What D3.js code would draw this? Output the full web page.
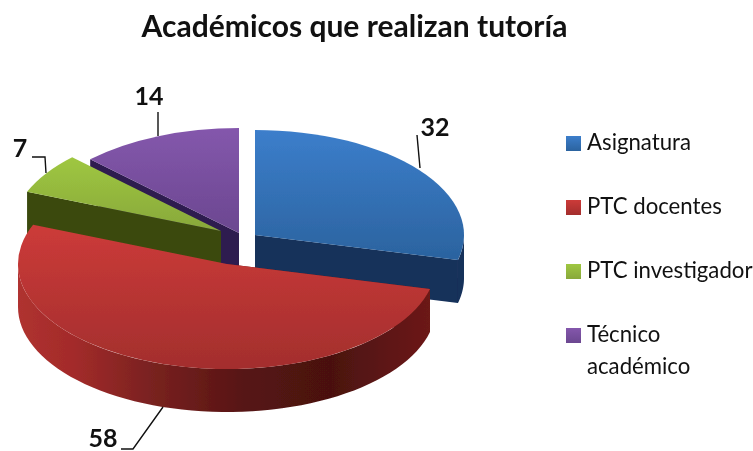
<!DOCTYPE html>
<html><head><meta charset="utf-8">
<script src="https://cdn.jsdelivr.net/npm/d3@7/dist/d3.min.js"></script>
<style>html,body{margin:0;padding:0;background:#fff}svg{display:block}text{font-family:Lato,"Open Sans",sans-serif;fill:#111}</style>
</head><body><svg id="c" width="753" height="451"></svg>
<script>
const categories=["Asignatura","PTC docentes","PTC investigador","Técnico académico"];
const values=[32,58,7,14];
const topStops=[["#3c7ecb","#2b639f"],["#cc3b39","#a32e2d"],["#9fc741","#88a83a"],["#8457ac","#6b4790"]];
const faceColors=["#14305a","#6a1a18","#3a4a0c","#2f1b50"];
const apexes=[[255,235],[227,264],[221,231],[239,233]];
const drawOrder=[3,2,0,1];
const rx=209, ry=105, depth=43;

const svg=d3.select("#c");
const defs=svg.append("defs");
defs.append("filter").attr("id","soft").append("feGaussianBlur").attr("stdDeviation",0.45);
topStops.forEach((s,i)=>{
  const g=defs.append("linearGradient").attr("id","t"+i).attr("x1",0).attr("y1",0).attr("x2",0).attr("y2",1);
  g.append("stop").attr("offset",0).attr("stop-color",s[0]);
  g.append("stop").attr("offset",1).attr("stop-color",s[1]);
});
const rw=defs.append("linearGradient").attr("id","redWall").attr("gradientUnits","userSpaceOnUse").attr("x1",15).attr("x2",435).attr("y1",0).attr("y2",0);
[[0,"#b03230"],[0.14,"#a32b2a"],[0.32,"#7a2220"],[0.55,"#561413"],[0.75,"#4a1110"],[1,"#6e1a18"]].forEach(d=>rw.append("stop").attr("offset",d[0]).attr("stop-color",d[1]));

const arcs=d3.pie().sort(null)(values);
const rim=(a,apex,dz=0)=>[apex[0]+rx*Math.sin(a),apex[1]-ry*Math.cos(a)+dz];
const arcAngles=(a0,a1)=>d3.range(0,61).map(k=>a0+(a1-a0)*k/60);
const line=d3.line();
const arcGen=d3.arc().innerRadius(0).outerRadius(rx);

const pieG=svg.append("g").attr("filter","url(#soft)");
drawOrder.forEach(i=>{
  const d=arcs[i], ap=apexes[i], g=pieG.append("g");
  const a0=d.startAngle,a1=d.endAngle;
  const cut=(i===0)?a1:a0;
  g.append("path").attr("fill",faceColors[i]).attr("d",line([ap,rim(cut,ap),rim(cut,ap,depth),[ap[0],ap[1]+depth]])+"Z");
  const lo=Math.max(a0,Math.PI/2),hi=Math.min(a1,Math.PI*1.5);
  if(hi>lo){
    const as=arcAngles(lo,hi);
    g.append("path").attr("fill",i===1?"url(#redWall)":faceColors[i])
      .attr("d",line(as.map(a=>rim(a,ap)).concat(as.slice().reverse().map(a=>rim(a,ap,depth))))+"Z");
  }
  g.append("path").attr("fill",`url(#t${i})`)
    .attr("transform",`translate(${ap[0]},${ap[1]}) scale(1,${ry/rx})`)
    .attr("d",arcGen(d));
});

const leaders=[
  [[417,135],[420,168]],
  [[121,449],[133,449],[163,407]],
  [[32,157],[45,157],[46,173]],
  [[158,112],[158,136]]
];
const labelPos=[[435,136],[103,447],[20,157],[149,105]];
svg.append("g").selectAll("path").data(leaders).join("path")
  .attr("d",d=>line(d)).attr("fill","none").attr("stroke","#111").attr("stroke-width",1.4);
svg.append("g").selectAll("text").data(values).join("text")
  .attr("x",(d,i)=>labelPos[i][0]).attr("y",(d,i)=>labelPos[i][1])
  .attr("text-anchor","middle").attr("font-size",25).attr("font-weight",700).text(d=>d);

svg.append("text").attr("x",354.5).attr("y",37).attr("text-anchor","middle")
  .attr("font-size",30).attr("font-weight",700).text("Académicos que realizan tutoría");

const legendY=d3.scaleLinear().domain([0,1]).range([136,200]);
const lg=svg.append("g");
categories.forEach((c,i)=>{
  const y=legendY(i);
  lg.append("rect").attr("x",566).attr("y",y).attr("width",15).attr("height",15).attr("fill",`url(#t${i})`);
  const words=i===3?c.split(" "):[c];
  words.forEach((w,k)=>lg.append("text").attr("x",587).attr("y",y+14+k*32).attr("font-size",22.2).text(w));
});
</script></body></html>
